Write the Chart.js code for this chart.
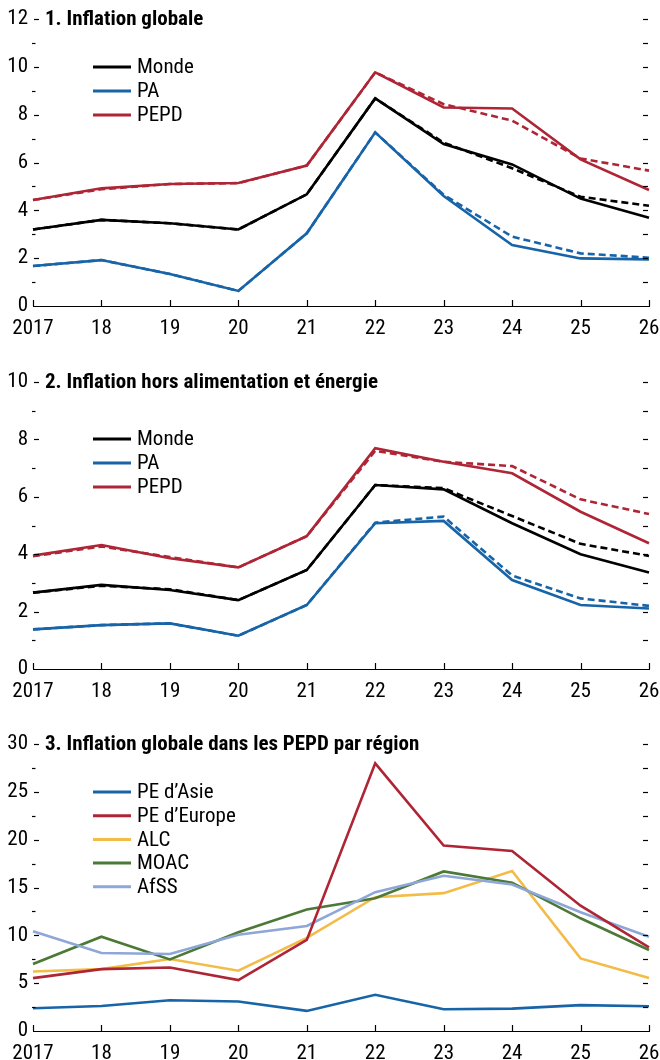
<!DOCTYPE html>
<html>
<head>
<meta charset="utf-8">
<script src="https://cdn.jsdelivr.net/npm/chart.js@4.4.1/dist/chart.umd.min.js"></script>
<style>
  html, body { margin: 0; padding: 0; background: #fff; }
  body { width: 660px; height: 1060px; position: relative; overflow: hidden; }
  .wrap { position: absolute; left: 0; width: 660px; height: 335px; }
  canvas { display: block; }
</style>
</head>
<body>
<div class="wrap" style="top:0px"><canvas id="c1" width="660" height="335"></canvas></div>
<div class="wrap" style="top:363px"><canvas id="c2" width="660" height="335"></canvas></div>
<div class="wrap" style="top:725px"><canvas id="c3" width="660" height="335"></canvas></div>
<script>
// ---------- DATA ----------
const years = ['2017', '18', '19', '20', '21', '22', '23', '24', '25', '26'];

// Panel 1: Inflation globale (solid = current, dashed = previous)
const p1Monde     = [3.2, 3.6, 3.46, 3.2, 4.67, 8.68, 6.77, 5.92, 4.49, 3.69];
const p1MondePrev = [3.2, 3.6, 3.46, 3.2, 4.67, 8.68, 6.83, 5.76, 4.57, 4.19];
const p1PA        = [1.67, 1.92, 1.34, 0.63, 3.04, 7.26, 4.6, 2.55, 1.99, 1.95];
const p1PAPrev    = [1.67, 1.92, 1.34, 0.63, 3.04, 7.26, 4.65, 2.9, 2.2, 2.02];
const p1PEPD      = [4.43, 4.92, 5.1, 5.14, 5.87, 9.77, 8.3, 8.26, 6.13, 4.85];
const p1PEPDPrev  = [4.43, 4.88, 5.1, 5.14, 5.87, 9.77, 8.44, 7.75, 6.17, 5.66];

// Panel 2: Inflation hors alimentation et énergie
const p2Monde     = [2.66, 2.93, 2.75, 2.4, 3.45, 6.41, 6.26, 5.08, 4.0, 3.36];
const p2MondePrev = [2.66, 2.9, 2.78, 2.4, 3.45, 6.41, 6.3, 5.33, 4.36, 3.94];
const p2PA        = [1.38, 1.53, 1.59, 1.16, 2.23, 5.08, 5.16, 3.1, 2.23, 2.11];
const p2PAPrev    = [1.38, 1.53, 1.59, 1.16, 2.23, 5.1, 5.31, 3.26, 2.46, 2.2];
const p2PEPD      = [3.95, 4.32, 3.86, 3.54, 4.63, 7.69, 7.22, 6.82, 5.48, 4.38];
const p2PEPDPrev  = [3.93, 4.27, 3.9, 3.54, 4.63, 7.6, 7.22, 7.07, 5.91, 5.4];

// Panel 3: Inflation globale dans les PEPD par région
const p3Asie   = [2.38, 2.62, 3.22, 3.08, 2.1, 3.78, 2.27, 2.34, 2.7, 2.59];
const p3Europe = [5.53, 6.47, 6.64, 5.32, 9.52, 27.98, 19.38, 18.82, 13.1, 8.74];
const p3ALC    = [6.22, 6.47, 7.52, 6.3, 9.73, 13.99, 14.41, 16.72, 7.59, 5.53];
const p3MOAC   = [7.0, 9.86, 7.48, 10.32, 12.7, 13.88, 16.68, 15.5, 11.78, 8.47];
const p3AfSS   = [10.42, 8.15, 8.05, 10.07, 10.98, 14.51, 16.23, 15.32, 12.41, 9.86];

const titles = [
  '1. Inflation globale',
  '2. Inflation hors alimentation et énergie',
  '3. Inflation globale dans les PEPD par région'
];

// ---------- STYLE ----------
const FONT = "'Liberation Sans Narrow', 'Arial Narrow', 'Roboto Condensed', 'DejaVu Sans Condensed', sans-serif";
const C = {
  black: '#000000',
  blue: '#1764a8',
  red: '#ae2636',
  yellow: '#f3bc48',
  green: '#4b7a36',
  lblue: '#8ea6d8'
};

function ds(label, data, color, dashed, order, legend) {
  return {
    label: label,
    data: data,
    borderColor: color,
    backgroundColor: color,
    borderWidth: 2.6,
    borderDash: dashed ? [7, 4] : [],
    pointRadius: 0,
    tension: 0,
    fill: false,
    order: order,
    _legend: legend
  };
}

// plugin: ticks on axes, title, legend
const decor = {
  id: 'decor',
  afterDraw(chart) {
    const o = chart.options.plugins.decor;
    const ctx = chart.ctx;
    const x = chart.scales.x, y = chart.scales.y;
    const ca = chart.chartArea;
    ctx.save();
    ctx.strokeStyle = '#000';
    ctx.lineWidth = 1.2;
    // x axis line
    ctx.beginPath();
    ctx.moveTo(ca.left, ca.bottom + 0.5);
    ctx.lineTo(ca.right + 1, ca.bottom + 0.5);
    ctx.stroke();
    // x ticks (pointing up)
    years.forEach((lab, i) => {
      const px = Math.round(x.getPixelForValue(i)) + 0.5;
      ctx.beginPath();
      ctx.moveTo(px, ca.bottom);
      ctx.lineTo(px, ca.bottom - 6);
      ctx.stroke();
    });
    // y ticks: left (major + minor), right (every minor)
    const minor = o.minor;
    for (let v = y.min; v <= y.max + 1e-9; v += minor) {
      const py = Math.round(y.getPixelForValue(v)) + 0.5;
      const major = Math.abs((v / o.major) - Math.round(v / o.major)) < 1e-6;
      if (v > y.min) {
        ctx.beginPath();
        if (major) { ctx.moveTo(ca.left + 1, py); ctx.lineTo(ca.left + 6, py); }
        else { ctx.moveTo(ca.left - 1, py); ctx.lineTo(ca.left + 2.5, py); }
        ctx.stroke();
        ctx.beginPath();
        ctx.moveTo(ca.right - 6, py); ctx.lineTo(ca.right - 1, py);
        ctx.stroke();
      }
    }
    // title
    ctx.fillStyle = '#000';
    ctx.font = 'bold 21px ' + FONT;
    ctx.textAlign = 'left';
    ctx.textBaseline = 'middle';
    ctx.fillText(o.title, 45, y.getPixelForValue(y.max) + 1);
    // legend
    ctx.font = '21px ' + FONT;
    const items = chart.data.datasets.filter(d => d._legend);
    items.forEach((d, i) => {
      const ly = o.legendTop + i * o.legendStep;
      ctx.strokeStyle = d.borderColor;
      ctx.lineWidth = 3;
      ctx.beginPath();
      ctx.moveTo(93, ly);
      ctx.lineTo(131, ly);
      ctx.stroke();
      ctx.fillStyle = '#000';
      ctx.fillText(d.label, 137, ly + 1);
    });
    ctx.restore();
  }
};

function makeChart(id, datasets, ymax, major, minor, title, legendTop, legendStep) {
  return new Chart(document.getElementById(id), {
    type: 'line',
    data: { labels: years, datasets: datasets },
    options: {
      responsive: false,
      animation: false,
      events: [],
      layout: { padding: { top: 19, right: 11, left: 0, bottom: 0 } },
      plugins: {
        legend: { display: false },
        tooltip: { enabled: false },
        decor: { title: title, major: major, minor: minor, legendTop: legendTop, legendStep: legendStep }
      },
      scales: {
        x: {
          type: 'category',
          offset: false,
          grid: { display: false, drawTicks: false },
          border: { display: false },
          ticks: {
            autoSkip: false, maxRotation: 0, minRotation: 0, padding: 10,
            color: '#000', font: { family: FONT, size: 21 }
          },
          afterFit(s) { s.height = 29; s.paddingLeft = 0; s.paddingRight = 0; }
        },
        y: {
          min: 0, max: ymax,
          grid: { display: false, drawTicks: false },
          border: { display: false },
          ticks: {
            stepSize: major, padding: 5, color: '#000',
            font: { family: FONT, size: 21 }
          },
          afterFit(s) { s.width = 33; s.paddingTop = 0; s.paddingBottom = 0; }
        }
      }
    },
    plugins: [decor]
  });
}

makeChart('c1', [
  ds('Monde', p1Monde, C.black, false, 4, true),
  ds('PA', p1PA, C.blue, false, 6, true),
  ds('PEPD', p1PEPD, C.red, false, 5, true),
  ds('Monde prev', p1MondePrev, C.black, true, 1, false),
  ds('PA prev', p1PAPrev, C.blue, true, 3, false),
  ds('PEPD prev', p1PEPDPrev, C.red, true, 2, false)
], 12, 2, 1, titles[0], 67, 24);

makeChart('c2', [
  ds('Monde', p2Monde, C.black, false, 4, true),
  ds('PA', p2PA, C.blue, false, 6, true),
  ds('PEPD', p2PEPD, C.red, false, 5, true),
  ds('Monde prev', p2MondePrev, C.black, true, 1, false),
  ds('PA prev', p2PAPrev, C.blue, true, 3, false),
  ds('PEPD prev', p2PEPDPrev, C.red, true, 2, false)
], 10, 2, 1, titles[1], 76, 24);

makeChart('c3', [
  ds('PE d\u2019Asie', p3Asie, C.blue, false, 5, true),
  ds('PE d\u2019Europe', p3Europe, C.red, false, 1, true),
  ds('ALC', p3ALC, C.yellow, false, 4, true),
  ds('MOAC', p3MOAC, C.green, false, 3, true),
  ds('AfSS', p3AfSS, C.lblue, false, 2, true)
], 30, 5, 2.5, titles[2], 67, 23.7);
</script>
</body>
</html>
